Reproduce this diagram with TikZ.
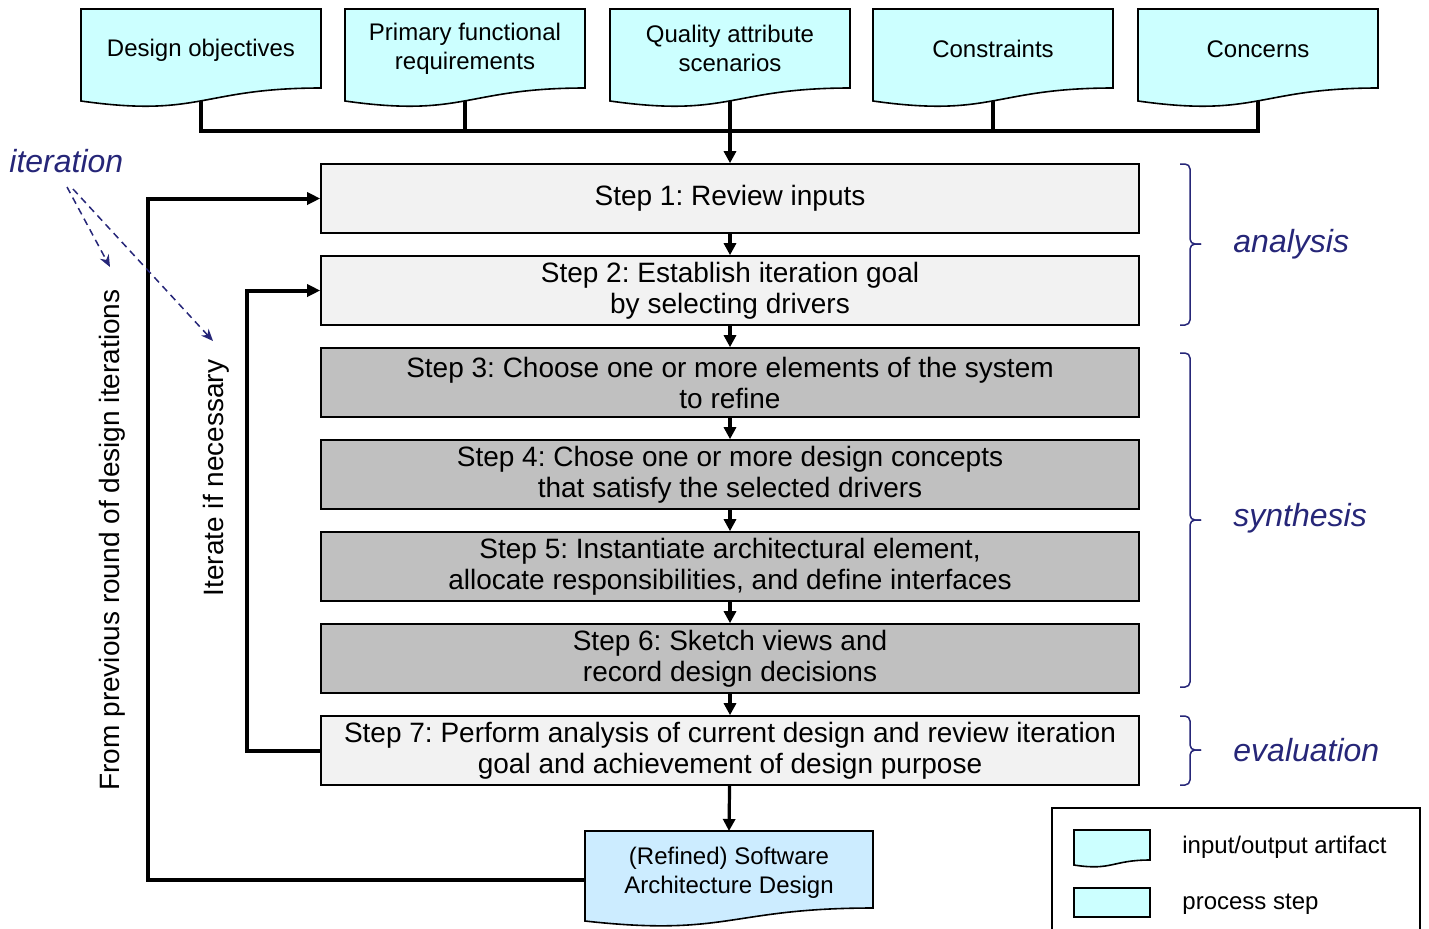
\documentclass[tikz,border=0pt]{standalone}
\usepackage{fontspec}
\setmainfont{Liberation Sans}
\usepackage{xcolor}
\usetikzlibrary{arrows.meta}
\frenchspacing

\definecolor{artifactcyan}{HTML}{CCFFFF}
\definecolor{outblue}{HTML}{CCECFF}
\definecolor{lightstepgray}{HTML}{F2F2F2}
\definecolor{darkstepgray}{HTML}{C0C0C0}
\definecolor{phaseblue}{RGB}{38,38,120}

\tikzset{
  artifact/.style={draw=black,line width=0.8pt,fill=artifactcyan},
  doctext/.style={align=center,font=\fontsize{12}{14.5}\selectfont},
  stepbox/.style={draw=black,line width=0.8pt,minimum width=409pt,minimum height=34.5pt,
    align=center,inner sep=0pt,font=\fontsize{14}{15.5}\selectfont},
  lightstep/.style={stepbox,fill=lightstepgray},
  darkstep/.style={stepbox,fill=darkstepgray},
  busline/.style={line width=2pt},
  flow/.style={line width=1.6pt,-{Triangle[length=6pt,width=6pt]}},
  loopflow/.style={line width=2pt,-{Triangle[length=6.5pt,width=6pt]}},
  iterarrow/.style={phaseblue,line width=0.75pt,dash pattern=on 3.5pt off 2.5pt,-{Stealth[length=6pt,width=5pt]}},
  phase/.style={phaseblue,font=\fontsize{16}{18}\selectfont\itshape,anchor=west,inner sep=0pt},
  phasebrace/.style={phaseblue,line width=0.75pt,rounded corners=2.5pt},
  sidetext/.style={rotate=90,font=\fontsize{14}{16}\selectfont,inner sep=0pt},
  legendtext/.style={anchor=west,font=\fontsize{12}{14}\selectfont,inner sep=0pt}
}

\begin{document}
\begin{tikzpicture}[x=0.5pt,y=-0.5pt]
\useasboundingbox (0,0) rectangle (1429,928);

% inputs
\foreach \n/\x/\y/\t in {d1/201/50/{Design objectives},
                         d2/465/48.5/{Primary functional\\requirements},
                         d3/730/48.5/{Quality attribute\\scenarios},
                         d4/993/49/{Constraints},
                         d5/1258/49/{Concerns}}{
  \filldraw[artifact] (\x-120,9) -- (\x+120,9) -- (\x+120,88)
    .. controls (\x,88) and (\x,118) .. (\x-120,101) -- cycle;
  \node[doctext] (\n) at (\x,\y) {\t};
  \coordinate (\n-b) at (\x,101);
}
\coordinate (junction) at (730,131);
\draw[busline] (d1-b) -- (d1-b |- junction) -- (d5-b |- junction) -- (d5-b);
\foreach \n in {d2,d3,d4}
  \draw[busline] (\n-b) -- (\n-b |- junction);

% steps
\node[lightstep] (s1) at (730,198.5) {Step 1: Review inputs};
\node[lightstep] (s2) at (730,290.5) {Step 2: Establish iteration goal\\by selecting drivers};
\node[darkstep] (s3) at (730,382.5) {Step 3: Choose one or more elements of the system\\to refine};
\node[darkstep] (s4) at (730,474.5) {Step 4: Chose one or more design concepts\\that satisfy the selected drivers};
\node[darkstep] (s5) at (730,566.5) {Step 5: Instantiate architectural element,\\allocate responsibilities, and define interfaces};
\node[darkstep] (s6) at (730,658.5) {Step 6: Sketch views and\\record design decisions};
\node[lightstep] (s7) at (730,750.5) {Step 7: Perform analysis of current design and review iteration\\goal and achievement of design purpose};

\draw[flow] (junction) -- (s1);
\foreach \a/\b in {s1/s2,s2/s3,s3/s4,s4/s5,s5/s6,s6/s7}
  \draw[flow] (\a) -- (\b);

% output
\filldraw[artifact,fill=outblue] (585,831) -- (873,831) -- (873,908)
  .. controls (729,908) and (729,937) .. (585,921) -- cycle;
\node[doctext,minimum width=144pt,minimum height=38.5pt,inner sep=0pt] (out) at (729,873)
  {(Refined) Software\\Architecture Design};
\draw[flow] (s7) -- (out.north |- 0,831);

% loops back
\draw[loopflow] (out.west |- 0,880) -- ++(-437,0) |- (s1.west);
\draw[loopflow] (s7.west) -- ++(-73,0) |- (s2.west);
\node[sidetext] (prev) at (112,540) {From previous round of design iterations};
\node[sidetext] (again) at (216,478) {Iterate if necessary};

% iteration note
\node[phase] (iter) at (9,161) {iteration};
\coordinate (itA) at (67,187);
\coordinate (itB) at (73,189);
\coordinate (itA-end) at (110,267);
\coordinate (itB-end) at (213,341);
\draw[iterarrow] (itA) -- (itA-end);
\draw[iterarrow] (itB) -- (itB-end);

% phases
\draw[phasebrace] (1180,164) -- (1190,164) -- (1190,244) -- (1201,244);
\draw[phasebrace] (1201,244) -- (1190,244) -- (1190,325) -- (1180,325);
\draw[phasebrace] (1180,353) -- (1190,353) -- (1190,520) -- (1201,520);
\draw[phasebrace] (1201,520) -- (1190,520) -- (1190,687) -- (1180,687);
\draw[phasebrace] (1180,716) -- (1190,716) -- (1190,750) -- (1201,750);
\draw[phasebrace] (1201,750) -- (1190,750) -- (1190,785) -- (1180,785);
\node[phase] (ana) at (1233,244) {analysis};
\node[phase] (syn) at (1233,518) {synthesis};
\node[phase] (eva) at (1233,750) {evaluation};

% legend
\draw[line width=0.8pt] (1052,808) rectangle (1420,940);
\filldraw[artifact] (1074,830) -- (1150,830) -- (1150,860)
  .. controls (1112,860) and (1112,871) .. (1074,865) -- cycle;
\node[artifact,minimum width=38pt,minimum height=14.5pt,inner sep=0pt] (lgstep) at (1112,902.5) {};
\node[legendtext] (lg1) at (1182,847) {input/output artifact};
\node[legendtext] (lg2) at (1182,904) {process step};
\end{tikzpicture}
\end{document}
